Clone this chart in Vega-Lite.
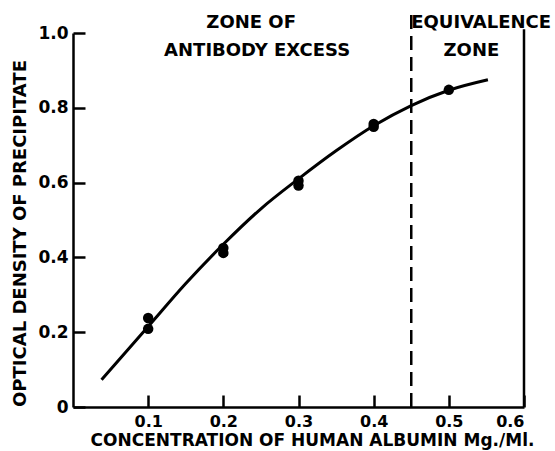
{
  "$schema": "https://vega.github.io/schema/vega-lite/v6.json",
  "width": 451,
  "height": 374,
  "autosize": "none",
  "padding": {"left": 73, "top": 33, "right": 31, "bottom": 44},
  "background": "white",
  "config": {
    "view": {"stroke": null},
    "axis": {
      "grid": false,
      "domainColor": "black",
      "domainWidth": 2.5,
      "tickColor": "black",
      "tickWidth": 2.5,
      "tickSize": -12,
      "labelFont": "DejaVu Sans",
      "labelFontWeight": "bold",
      "labelFontSize": 17,
      "labelColor": "black",
      "titleFont": "DejaVu Sans",
      "titleFontWeight": "bold",
      "titleFontSize": 18,
      "titleColor": "black"
    }
  },
  "datasets": {
    "curve": [
      {"x": 0.038, "y": 0.073},
      {"x": 0.1, "y": 0.215},
      {"x": 0.15, "y": 0.33},
      {"x": 0.2, "y": 0.435},
      {"x": 0.25, "y": 0.53},
      {"x": 0.3, "y": 0.61},
      {"x": 0.35, "y": 0.685},
      {"x": 0.4, "y": 0.752},
      {"x": 0.45, "y": 0.806},
      {"x": 0.5, "y": 0.847},
      {"x": 0.552, "y": 0.875}
    ],
    "obs": [
      {"x": 0.1, "y": 0.238},
      {"x": 0.1, "y": 0.209},
      {"x": 0.2, "y": 0.425},
      {"x": 0.2, "y": 0.412},
      {"x": 0.3, "y": 0.605},
      {"x": 0.3, "y": 0.592},
      {"x": 0.4, "y": 0.757},
      {"x": 0.4, "y": 0.749},
      {"x": 0.5, "y": 0.848}
    ],
    "dashed": [{"x": 0.45, "y": 0, "y2": 1.053}],
    "border": [{"x": 0.6, "y": 0, "y2": 1.01}],
    "labels": [
      {"x": 0.237, "y": 1.026, "label": "ZONE OF"},
      {"x": 0.245, "y": 0.951, "label": "ANTIBODY EXCESS"},
      {"x": 0.543, "y": 1.026, "label": "EQUIVALENCE"},
      {"x": 0.53, "y": 0.951, "label": "ZONE"}
    ]
  },
  "encoding": {
    "x": {
      "field": "x",
      "type": "quantitative",
      "scale": {"domain": [0, 0.6], "nice": false, "zero": false},
      "title": "CONCENTRATION OF HUMAN ALBUMIN  Mg./Ml.",
      "axis": {
        "values": [0.1, 0.2, 0.3, 0.4, 0.5, 0.6],
        "format": ".1f",
        "labelPadding": 18,
        "labelFontSize": 16,
        "titlePadding": 3,
        "titleFontSize": 17,
        "titleX": 239
      }
    },
    "y": {
      "field": "y",
      "type": "quantitative",
      "scale": {"domain": [0, 1], "nice": false, "zero": false},
      "title": "OPTICAL DENSITY OF PRECIPITATE",
      "axis": {
        "values": [0, 0.2, 0.4, 0.6, 0.8, 1.0],
        "labelExpr": "datum.value == 0 ? '0' : format(datum.value, '.1f')",
        "labelPadding": 17,
        "titlePadding": 8,
        "titleY": 200
      }
    }
  },
  "layer": [
    {
      "data": {"name": "curve"},
      "mark": {"type": "line", "color": "black", "strokeWidth": 3, "interpolate": "monotone"}
    },
    {
      "data": {"name": "obs"},
      "mark": {"type": "point", "filled": true, "color": "black", "opacity": 1, "size": 110}
    },
    {
      "data": {"name": "dashed"},
      "mark": {"type": "rule", "color": "black", "strokeWidth": 2.5, "strokeDash": [14, 7]},
      "encoding": {"y2": {"field": "y2"}}
    },
    {
      "data": {"name": "border"},
      "mark": {"type": "rule", "color": "black", "strokeWidth": 2.5},
      "encoding": {"y2": {"field": "y2"}}
    },
    {
      "data": {"name": "labels"},
      "mark": {"type": "text", "font": "DejaVu Sans", "fontWeight": "bold", "fontSize": 18, "color": "black", "align": "center", "baseline": "middle"},
      "encoding": {"text": {"field": "label"}}
    }
  ]
}
